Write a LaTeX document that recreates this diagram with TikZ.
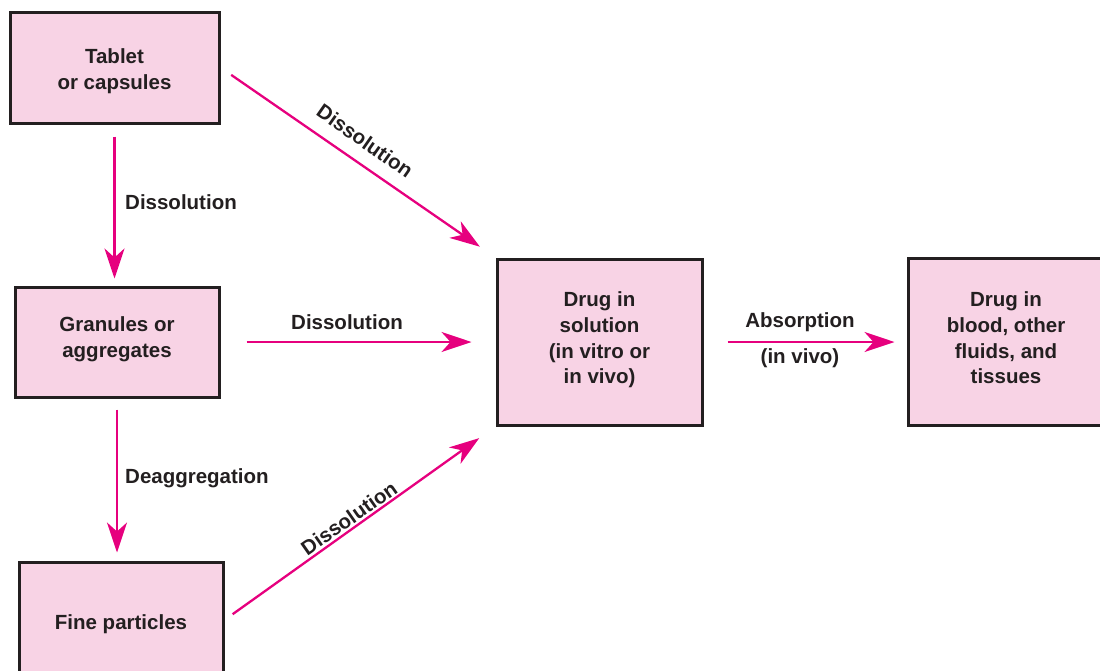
\documentclass[tikz,border=0pt]{standalone}
\usepackage{fontspec}
\setmainfont{Liberation Sans}
\usetikzlibrary{arrows.meta}
\definecolor{boxfill}{HTML}{F8D3E5}
\definecolor{arrowcol}{HTML}{E6007E}
\definecolor{ink}{HTML}{231F20}
\tikzset{
  box/.style={draw=ink, line width=3pt, fill=boxfill, inner sep=0pt},
  txt/.style={text=ink, align=center, font=\fontsize{20.5}{25.7}\selectfont\bfseries, inner sep=0pt},
  flow/.style={draw=arrowcol, line width=2.3pt, -{Stealth[length=30pt,width=20pt,inset=9pt]}},
  lbl/.style={text=ink, font=\fontsize{20.5}{25.7}\selectfont\bfseries, inner sep=0pt}
}
\begin{document}
\begin{tikzpicture}[x=1pt,y=-1pt]
\useasboundingbox (0,0) rectangle (1100,670);
\node[box, minimum width=209pt, minimum height=111pt,
  label={[txt, yshift=-4pt]center:{Tablet\\or capsules}}] (t) at (114.5,67.5) {};
\node[box, minimum width=204pt, minimum height=110pt,
  label={[txt, yshift=3pt]center:{Granules or\\aggregates}}] (g) at (117,342) {};
\node[box, minimum width=204pt, minimum height=116pt,
  label={[txt, yshift=-4pt]center:{Fine particles}}] (f) at (121,620) {};
\node[box, minimum width=205pt, minimum height=166pt,
  label={[txt, yshift=2pt]center:{Drug in\\solution\\(in vitro or\\in vivo)}}] (s) at (599.5,342) {};
\node[box, minimum width=196pt, minimum height=167pt,
  label={[txt, yshift=4pt]center:{Drug in\\blood, other\\fluids, and\\tissues}}] (b) at (1006,342) {};

\draw[flow, shorten <=13pt, shorten >=19pt] (t.east) -- (s.north west);
\draw[flow, shorten <=12pt, shorten >=7pt] (t.south) -- (t.south |- g.north);
\draw[flow, shorten <=26pt, shorten >=24pt] (g.east) -- (s.west);
\draw[flow, shorten <=11pt, shorten >=8pt] (g.south) -- (g.south |- f.north);
\draw[flow, shorten <=10pt, shorten >=20pt] (f.east) -- (s.south west);
\draw[flow, shorten <=24pt, shorten >=12pt] (s.east) -- (b.west);

\node[lbl, rotate=-35] (l1) at (365,141) {Dissolution};
\node[lbl, anchor=west] (l2) at (125,202) {Dissolution};
\node[lbl] (l3) at (347,322) {Dissolution};
\node[lbl, anchor=west] (l4) at (125,478) {Deaggregation};
\node[lbl, rotate=35] (l5) at (349,518) {Dissolution};
\node[lbl] (l6) at (800,322) {Absorption};
\node[lbl] (l7) at (800,358) {(in vivo)};
\end{tikzpicture}
\end{document}
